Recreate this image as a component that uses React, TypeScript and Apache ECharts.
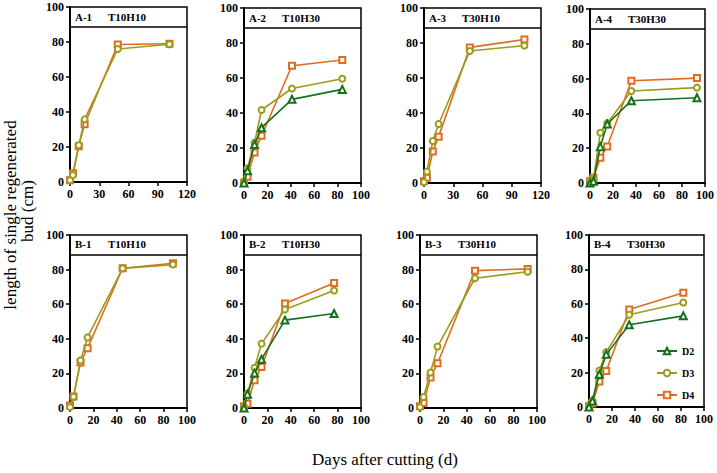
import React, { useEffect, useRef } from "react";
import * as echarts from "echarts";

// ---- data (days after cutting, bud length cm) ----
const daysA1 = [0, 3, 9, 15, 49, 102];
const a1D3 = [1, 4, 21, 35.8, 76, 78.7];
const a1D4 = [1, 5, 20.5, 33, 78.6, 79];

const daysA2 = [0, 3, 9, 15, 41, 84];
const a2D2 = [0, 7, 22, 31.6, 47.8, 53.5];
const a2D3 = [1, 8.4, 23, 41.7, 54, 59.6];
const a2D4 = [0, 3.6, 17.5, 27, 67, 70.3];

const daysA3 = [0, 3, 9, 15, 47, 103];
const a3D3 = [0.5, 6.5, 24, 33.7, 75.4, 78.5];
const a3D4 = [1, 3, 18, 26.5, 77.5, 82];

const daysA4 = [0, 3, 9, 15, 36, 93];
const a4D2 = [0, 1, 20.9, 33.9, 47.3, 49];
const a4D3 = [1.5, 2, 28.9, 34.3, 52.9, 54.8];
const a4D4 = [1, 3, 14.5, 21, 58.8, 60.3];

const daysB1 = [0, 3, 9, 15, 45, 88];
const b1D3 = [0.5, 6.5, 27.5, 40.8, 80.7, 82.9];
const b1D4 = [1.5, 6.7, 26.3, 34.6, 80.8, 83.7];

const daysB2 = [0, 3, 9, 15, 35, 77];
const b2D2 = [0, 8, 20.3, 28.2, 50.8, 54.6];
const b2D3 = [1, 8.4, 23.3, 37.2, 56.9, 67.9];
const b2D4 = [1, 2.5, 16, 23.7, 60.4, 72.3];

const daysB3 = [0, 3, 9, 15, 47, 92];
const b3D3 = [0.5, 6.3, 20.5, 35.5, 75, 78.8];
const b3D4 = [1, 2.9, 17.7, 25.9, 79.4, 80.4];

const daysB4 = [0, 3, 9, 15, 35, 82];
const b4D2 = [0, 3.5, 19, 30.6, 47.8, 53];
const b4D3 = [1, 3.7, 21.2, 31.9, 53.6, 60.8];
const b4D4 = [0.5, 2, 14.8, 20.9, 56.7, 66.4];

const seriesNames = ["D2", "D3", "D4"];
const yTicks = [0, 20, 40, 60, 80, 100];

const FONT = "Liberation Serif";
const COLORS: Record<string, string> = { D2: "#17701c", D3: "#9c9c1c", D4: "#e06c20" };
const SYMBOLS: Record<string, string> = { D2: "emptyTriangle", D3: "emptyCircle", D4: "emptyRect" };

type Panel = {
  code: string;
  cond: string;
  grid: { left: number; top: number; width: number; height: number };
  xMax: number;
  xInt: number;
  days: number[];
  vals: Record<string, number[]>;
};

const panels: Panel[] = [
  { code: "A-1", cond: "T10H10", grid: { left: 70, top: 7, width: 117, height: 175 }, xMax: 120, xInt: 30, days: daysA1, vals: { D3: a1D3, D4: a1D4 } },
  { code: "A-2", cond: "T10H30", grid: { left: 244, top: 8, width: 117, height: 175 }, xMax: 100, xInt: 20, days: daysA2, vals: { D2: a2D2, D3: a2D3, D4: a2D4 } },
  { code: "A-3", cond: "T30H10", grid: { left: 424, top: 8, width: 117, height: 175 }, xMax: 120, xInt: 30, days: daysA3, vals: { D3: a3D3, D4: a3D4 } },
  { code: "A-4", cond: "T30H30", grid: { left: 590, top: 9, width: 116, height: 174 }, xMax: 100, xInt: 20, days: daysA4, vals: { D2: a4D2, D3: a4D3, D4: a4D4 } },
  { code: "B-1", cond: "T10H10", grid: { left: 70, top: 235, width: 117, height: 173 }, xMax: 100, xInt: 20, days: daysB1, vals: { D3: b1D3, D4: b1D4 } },
  { code: "B-2", cond: "T10H30", grid: { left: 244, top: 235, width: 117, height: 173 }, xMax: 100, xInt: 20, days: daysB2, vals: { D2: b2D2, D3: b2D3, D4: b2D4 } },
  { code: "B-3", cond: "T30H10", grid: { left: 420, top: 235, width: 117, height: 173 }, xMax: 100, xInt: 20, days: daysB3, vals: { D3: b3D3, D4: b3D4 } },
  { code: "B-4", cond: "T30H30", grid: { left: 589, top: 235, width: 115, height: 172 }, xMax: 100, xInt: 20, days: daysB4, vals: { D2: b4D2, D3: b4D3, D4: b4D4 } },
];

const HEADER_LINE = 88.5;

export default function App() {
  const ref = useRef<HTMLDivElement>(null);
  useEffect(() => {
    if (!ref.current) return;
    const chart = echarts.init(ref.current, undefined, { renderer: "svg" });
    const grids: any[] = [];
    const xAxes: any[] = [];
    const yAxes: any[] = [];
    const series: any[] = [];
    const graphics: any[] = [];
    const labelStyle = { color: "#000", fontFamily: FONT, fontWeight: "bold", fontSize: 12 };
    panels.forEach((p, i) => {
      grids.push({ ...p.grid, show: true, borderColor: "#000", borderWidth: 1.5, containLabel: false });
      xAxes.push({
        type: "value", gridIndex: i, min: 0, max: p.xMax, interval: p.xInt,
        axisLine: { show: true, onZero: false, lineStyle: { color: "#000", width: 2 } },
        axisTick: { show: true, inside: false, length: 4, lineStyle: { color: "#000", width: 1.5 } },
        axisLabel: { ...labelStyle, margin: 6 },
        splitLine: { show: false },
      });
      yAxes.push({
        type: "value", gridIndex: i, min: 0, max: 100, interval: 20,
        axisLine: { show: true, lineStyle: { color: "#000", width: 2 } },
        axisTick: { show: true, inside: false, length: 4, lineStyle: { color: "#000", width: 1.5 } },
        axisLabel: { ...labelStyle, margin: 6, formatter: (v: number) => (yTicks.includes(v) ? String(v) : "") },
        splitLine: { show: false },
      });
      const order = ["D4", "D3", "D2"].filter((n) => p.vals[n]);
      order.forEach((name, k) => {
        const vals = p.vals[name];
        series.push({
          type: "line", name, xAxisIndex: i, yAxisIndex: i,
          data: p.days.map((d, j) => [d, vals[j]]),
          symbol: SYMBOLS[name], symbolSize: name === "D2" ? 7 : 6,
          lineStyle: { color: COLORS[name], width: 1.6 },
          itemStyle: { color: COLORS[name], borderColor: COLORS[name], borderWidth: 1.5 },
          z: 3 + k,
          markLine: k === 0 ? {
            silent: true, symbol: ["none", "none"], label: { show: false },
            lineStyle: { color: "#000", width: 1.5, type: "solid" },
            data: [{ yAxis: HEADER_LINE }],
          } : undefined,
        });
      });
      const headerY = p.grid.top + (p.grid.height * (100 - HEADER_LINE)) / 200;
      graphics.push({
        type: "text", left: p.grid.left + 5, top: headerY - 6,
        style: { text: p.code, fill: "#000", font: `bold 11px "${FONT}"` },
      });
      graphics.push({
        type: "text", left: p.grid.left + 38, top: headerY - 6,
        style: { text: p.cond, fill: "#000", font: `bold 11px "${FONT}"` },
      });
    });
    graphics.push({
      type: "text", x: 10, y: 215, rotation: Math.PI / 2,
      style: { text: "length of single regenerated", fill: "#000", font: `17px "${FONT}"`, textAlign: "center", textVerticalAlign: "middle" },
    });
    graphics.push({
      type: "text", x: 27, y: 211, rotation: Math.PI / 2,
      style: { text: "bud (cm)", fill: "#000", font: `17px "${FONT}"`, textAlign: "center", textVerticalAlign: "middle" },
    });
    graphics.push({
      type: "text", x: 385, y: 459,
      style: { text: "Days after cutting (d)", fill: "#000", font: `17px "${FONT}"`, textAlign: "center", textVerticalAlign: "middle" },
    });
    chart.setOption({
      animation: false,
      backgroundColor: "#fff",
      grid: grids,
      xAxis: xAxes,
      yAxis: yAxes,
      series,
      legend: {
        data: seriesNames, orient: "vertical", left: 651, top: 341,
        itemWidth: 20, itemHeight: 8, itemGap: 12,
        textStyle: { color: "#000", fontFamily: FONT, fontWeight: "bold", fontSize: 10 },
      },
      graphic: graphics,
    });
    return () => chart.dispose();
  }, []);
  return <div ref={ref} style={{ position: "absolute", left: 0, top: 0, width: 717, height: 473 }} />;
}
